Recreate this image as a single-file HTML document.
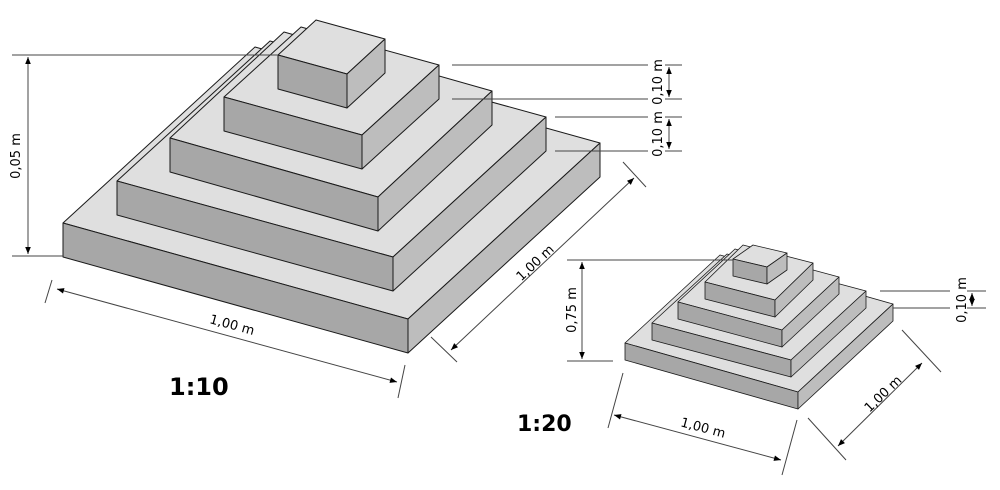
<!DOCTYPE html>
<html><head><meta charset="utf-8"><style>
html,body{margin:0;padding:0;background:#fff;}
svg{display:block;}
text{font-family:"DejaVu Sans","Liberation Sans",sans-serif;fill:#000;}
</style></head><body>
<svg width="1000" height="490" viewBox="0 0 1000 490" xmlns="http://www.w3.org/2000/svg">
<defs>
<marker id="a" viewBox="0 0 10 10" refX="10" refY="5" markerWidth="9" markerHeight="7" orient="auto-start-reverse" markerUnits="userSpaceOnUse"><path d="M0,1 L10,5 L0,9 z" fill="#000"/></marker>
</defs>
<g stroke="#1a1a1a" stroke-width="1" stroke-linejoin="round">
<polygon fill="#dfdfdf" points="63,223 408,319 600,143 255,47"/>
<polygon fill="#a7a7a7" points="63,223 408,319 408,353 63,257"/>
<polygon fill="#bdbdbd" points="408,319 600,143 600,177 408,353"/>
<polygon fill="#dfdfdf" points="117,181 393,257 546,117 270,41"/>
<polygon fill="#a7a7a7" points="117,181 393,257 393,291 117,215"/>
<polygon fill="#bdbdbd" points="393,257 546,117 546,151 393,291"/>
<polygon fill="#dfdfdf" points="170,138 378,197 492,91 284,32"/>
<polygon fill="#a7a7a7" points="170,138 378,197 378,231 170,172"/>
<polygon fill="#bdbdbd" points="378,197 492,91 492,125 378,231"/>
<polygon fill="#dfdfdf" points="224,97 362,135 439,65 301,27"/>
<polygon fill="#a7a7a7" points="224,97 362,135 362,169 224,131"/>
<polygon fill="#bdbdbd" points="362,135 439,65 439,99 362,169"/>
<polygon fill="#dfdfdf" points="278,55 347,74 385,39 316,20"/>
<polygon fill="#a7a7a7" points="278,55 347,74 347,108 278,89"/>
<polygon fill="#bdbdbd" points="347,74 385,39 385,73 347,108"/>
</g>
<g stroke="#1a1a1a" stroke-width="0.8" stroke-linejoin="round">
<polygon fill="#dfdfdf" points="625,343 798,392 893,304 720,255"/>
<polygon fill="#a7a7a7" points="625,343 798,392 798,409 625,360"/>
<polygon fill="#bdbdbd" points="798,392 893,304 893,321 798,409"/>
<polygon fill="#dfdfdf" points="652,323 791,360 866,291 727,254"/>
<polygon fill="#a7a7a7" points="652,323 791,360 791,377 652,340"/>
<polygon fill="#bdbdbd" points="791,360 866,291 866,308 791,377"/>
<polygon fill="#dfdfdf" points="678,302 782,330 839,277 735,249"/>
<polygon fill="#a7a7a7" points="678,302 782,330 782,347 678,319"/>
<polygon fill="#bdbdbd" points="782,330 839,277 839,294 782,347"/>
<polygon fill="#dfdfdf" points="705,282 775,300 813,263 743,245"/>
<polygon fill="#a7a7a7" points="705,282 775,300 775,317 705,299"/>
<polygon fill="#bdbdbd" points="775,300 813,263 813,280 775,317"/>
<polygon fill="#dfdfdf" points="733,259 767,267 787,253 753,245"/>
<polygon fill="#a7a7a7" points="733,259 767,267 767,284 733,276"/>
<polygon fill="#bdbdbd" points="767,267 787,253 787,270 767,284"/>
</g>

<g stroke="#444" stroke-width="1" fill="none">
<line x1="12" y1="55" x2="278" y2="55"/>
<line x1="12" y1="256" x2="63" y2="256"/>
<line x1="28" y1="57" x2="28" y2="254" marker-start="url(#a)" marker-end="url(#a)"/>
<line x1="452" y1="65" x2="648" y2="65"/><line x1="665" y1="65" x2="682" y2="65"/>
<line x1="452" y1="99" x2="648" y2="99"/><line x1="665" y1="99" x2="682" y2="99"/>
<line x1="555" y1="117" x2="648" y2="117"/><line x1="665" y1="117" x2="682" y2="117"/>
<line x1="555" y1="151" x2="648" y2="151"/><line x1="665" y1="151" x2="682" y2="151"/>
<line x1="669" y1="67" x2="669" y2="97" marker-start="url(#a)" marker-end="url(#a)"/>
<line x1="669" y1="119" x2="669" y2="149" marker-start="url(#a)" marker-end="url(#a)"/>
<line x1="52" y1="280" x2="45" y2="303"/>
<line x1="405" y1="365" x2="398" y2="398"/>
<line x1="57" y1="289" x2="397" y2="382" marker-start="url(#a)" marker-end="url(#a)"/>
<line x1="623" y1="162" x2="646" y2="187"/>
<line x1="431" y1="337" x2="457" y2="362"/>
<line x1="634" y1="178" x2="451" y2="350" marker-start="url(#a)" marker-end="url(#a)"/>
<line x1="567" y1="260" x2="733" y2="260"/>
<line x1="567" y1="361" x2="613" y2="361"/>
<line x1="582" y1="262" x2="582" y2="359" marker-start="url(#a)" marker-end="url(#a)"/>
<line x1="880" y1="291" x2="950" y2="291"/><line x1="967" y1="291" x2="986" y2="291"/>
<line x1="893" y1="308" x2="950" y2="308"/><line x1="967" y1="308" x2="986" y2="308"/>
<line x1="972" y1="293" x2="972" y2="306" marker-start="url(#a)" marker-end="url(#a)"/>
<line x1="623" y1="373" x2="608" y2="428"/>
<line x1="797" y1="420" x2="782" y2="475"/>
<line x1="614" y1="415" x2="781" y2="460" marker-start="url(#a)" marker-end="url(#a)"/>
<line x1="902" y1="330" x2="941" y2="372"/>
<line x1="808" y1="418" x2="846" y2="460"/>
<line x1="922" y1="363" x2="838" y2="446" marker-start="url(#a)" marker-end="url(#a)"/>
</g>

<g font-size="13">
<text transform="translate(20,156) rotate(-90)" text-anchor="middle">0,05 m</text>
<text transform="translate(662,82) rotate(-90)" text-anchor="middle">0,10 m</text>
<text transform="translate(662,134) rotate(-90)" text-anchor="middle">0,10 m</text>
<text transform="translate(231,329) rotate(15.3)" text-anchor="middle">1,00 m</text>
<text transform="translate(538,266) rotate(-43)" text-anchor="middle">1,00 m</text>
<text transform="translate(576,310) rotate(-90)" text-anchor="middle">0,75 m</text>
<text transform="translate(966,300) rotate(-90)" text-anchor="middle">0,10 m</text>
<text transform="translate(702,432) rotate(15)" text-anchor="middle">1,00 m</text>
<text transform="translate(886,397) rotate(-44)" text-anchor="middle">1,00 m</text>
</g>
<text x="169" y="395" font-size="24" font-weight="bold">1:10</text>
<text x="517" y="431" font-size="22" font-weight="bold">1:20</text>
</svg>
</body></html>
